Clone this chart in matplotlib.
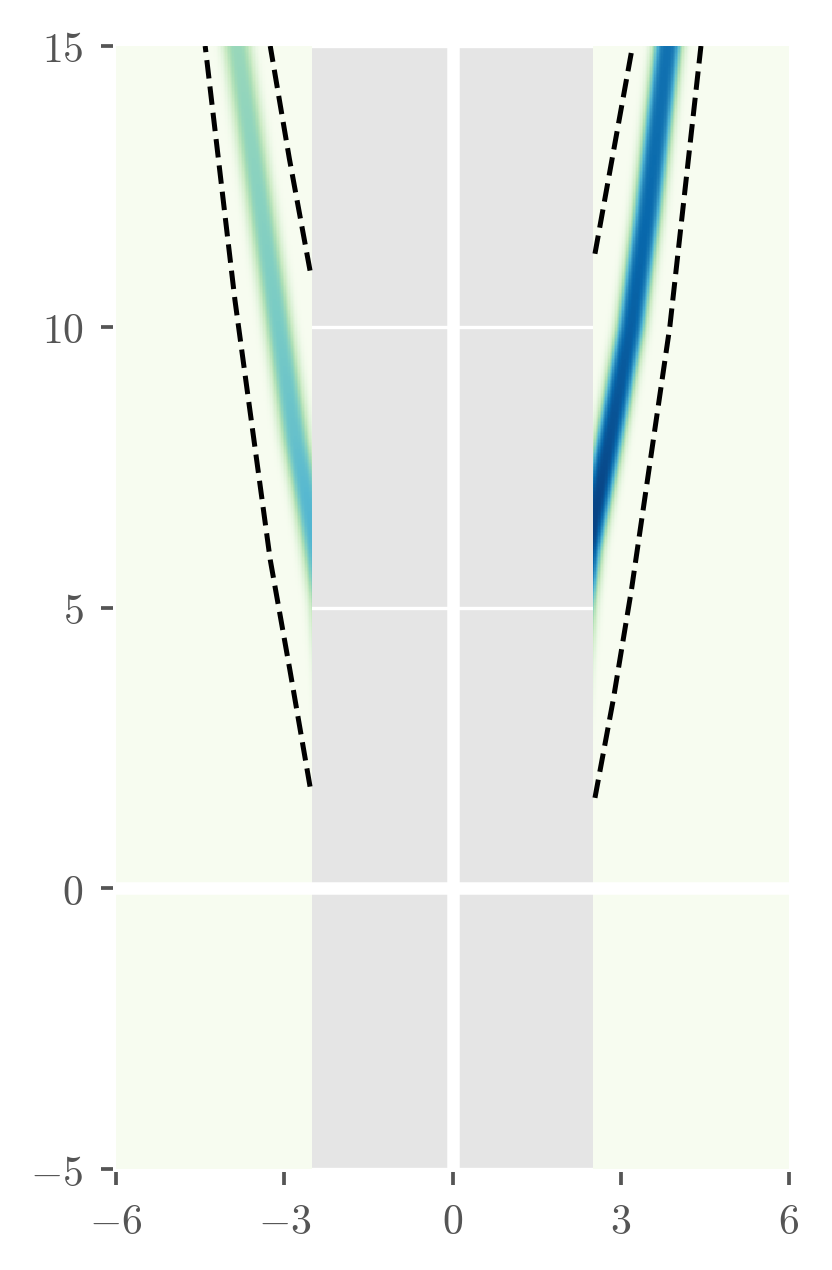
import numpy as np
import matplotlib
matplotlib.use('Agg')
import matplotlib.pyplot as plt

plt.rcParams['mathtext.fontset'] = 'cm'

# ビームの中心線・強度
beam_y = [0, 2, 3, 4, 5, 6, 7, 8, 10, 12, 15]
right_center = [1.8, 2.0, 2.09, 2.165, 2.26, 2.4, 2.6, 2.8, 3.18, 3.47, 3.84]
right_peak = [1.0, 1.0, 1.0, 1.0, 1.0, 1.0, 0.98, 0.95, 0.9, 0.87, 0.84]
left_center = [-1.8, -2.0, -2.09, -2.165, -2.26, -2.42, -2.6, -2.8, -3.1, -3.4, -3.84]
left_peak = [0.62, 0.62, 0.62, 0.62, 0.62, 0.62, 0.6, 0.56, 0.51, 0.47, 0.42]
beam_width = 0.27   # 山形（べき3）の半幅

# 破線（境界）
left_outer_y = [1.81, 3.89, 5.85, 10.48, 15.0]
left_outer_x = [-2.54, -2.90, -3.25, -3.88, -4.41]
left_inner_y = [11.0, 13.0, 15.0]
left_inner_x = [-2.54, -2.91, -3.25]
right_outer_y = [1.61, 3.35, 5.31, 10.0, 15.0]
right_outer_x = [2.54, 2.865, 3.19, 3.875, 4.43]
right_inner_y = [11.3, 15.0]
right_inner_x = [2.54, 3.21]

xticks = [-6, -3, 0, 3, 6]
yticks = [-5, 0, 5, 10, 15]
wall = 2.5

# 格子とフィールド
xe = np.linspace(-6, 6, 481)
ye = np.linspace(-5, 15, 801)
xm = 0.5 * (xe[1:] + xe[:-1])
ym = 0.5 * (ye[1:] + ye[:-1])
X, Y = np.meshgrid(xm, ym)
yc = np.clip(Y, 0, None)
rc = np.interp(yc, beam_y, right_center)
rp = np.interp(yc, beam_y, right_peak)
lc = np.interp(yc, beam_y, left_center)
lp = np.interp(yc, beam_y, left_peak)
Z = rp * np.exp(-np.abs((X - rc) / beam_width)**3) + lp * np.exp(-np.abs((X - lc) / beam_width)**3)
Z[Y < 0] = 0.0
Z = np.ma.masked_where(np.abs(X) < wall, Z)

fig = plt.figure(figsize=(832/300, 1270/300), dpi=300)
ax = fig.add_axes([116/832, 1 - 1169/1270, (789-116)/832, (1169-46)/1270])
ax.set_facecolor('#e5e5e5')
ax.set_axisbelow(True)
ax.grid(True, color='white', lw=0.8)

ax.pcolormesh(xe, ye, Z, cmap='GnBu', vmin=0, vmax=1, shading='flat',
              edgecolors='none', antialiased=False, zorder=1)

ax.axhline(0, color='white', lw=3, zorder=3)
ax.axvline(0, color='white', lw=3, zorder=3)

for lx, ly in [(left_outer_x, left_outer_y), (left_inner_x, left_inner_y),
               (right_outer_x, right_outer_y), (right_inner_x, right_inner_y)]:
    ax.plot(lx, ly, 'k--', lw=1.2, zorder=4)

ax.set_xlim(-6, 6)
ax.set_ylim(-5, 15)
ax.set_xticks(xticks)
ax.set_yticks(yticks)
ax.set_xticklabels([f'${t}$' for t in xticks])
ax.set_yticklabels([f'${t}$' for t in yticks])
ax.tick_params(direction='out', length=3, width=0.9, color='#555555',
               labelcolor='#555555', labelsize=10, pad=4)

for s in ax.spines.values():
    s.set_position(('outward', 0.8))
    s.set_visible(False)

fig.savefig('out.png', dpi=300)
